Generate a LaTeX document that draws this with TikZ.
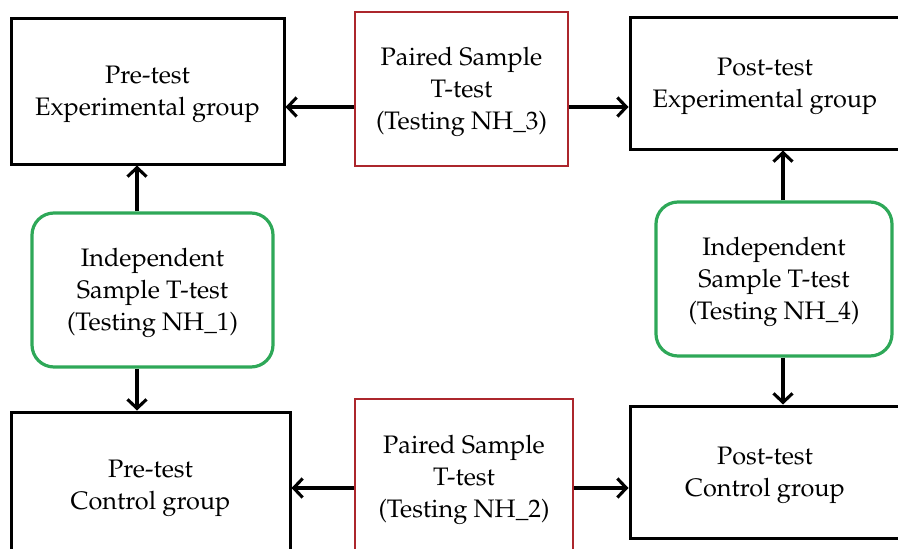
\documentclass[tikz,border=0pt]{standalone}
\usepackage[T1]{fontenc}
\usepackage{mathpazo}
\usetikzlibrary{arrows.meta}
\definecolor{boxred}{RGB}{172,38,44}
\definecolor{boxgreen}{RGB}{46,168,88}
\newcommand{\topstrut}{\rule{0pt}{25pt}}
\tikzset{
  every node/.style={font=\fontsize{25.3}{32}\selectfont, align=center, inner sep=0pt},
  blackbox/.style={draw=black, line width=3pt, rectangle},
  redbox/.style={draw=boxred, line width=2.3pt, rectangle},
  greenbox/.style={draw=boxgreen, line width=3.2pt, rectangle, rounded corners=22pt},
  arr/.style={line width=3.1pt, -{Straight Barb[length=9pt,width=19pt,line width=3.1pt]}}
}
\begin{document}
\begin{tikzpicture}[x=1pt,y=-1pt]
\useasboundingbox (0,0) rectangle (898,549);
\clip (0,0) rectangle (898,549);
\node[blackbox, minimum width=273pt, minimum height=146pt] (TL) at (147.5,91) {\topstrut Pre-test\\Experimental group};
\node[redbox, minimum width=213pt, minimum height=154pt] (NH3) at (461.5,89) {\topstrut Paired Sample\\T-test\\(Testing NH\_3)};
\node[blackbox, minimum width=270pt, minimum height=132pt] (TR) at (765,83) {\topstrut Post-test\\Experimental group};
\node[greenbox, minimum width=241pt, minimum height=154pt] (GL) at (152.5,290) {\topstrut Independent\\Sample T-test\\(Testing NH\_1)};
\node[greenbox, minimum width=236pt, minimum height=154pt] (GR) at (774,279) {\topstrut Independent\\Sample T-test\\(Testing NH\_4)};
\node[blackbox, minimum width=279pt, minimum height=146pt] (BL) at (150.5,485) {\topstrut Pre-test\\Control group};
\node[redbox, minimum width=218pt, minimum height=156pt] (NH2) at (464,477) {\topstrut Paired Sample\\T-test\\(Testing NH\_2)};
\node[blackbox, minimum width=270pt, minimum height=132pt] (BR) at (765,472) {\topstrut Post-test\\Control group};
\coordinate (lx) at (137,0);
\coordinate (rx) at (783,0);
\coordinate (ty) at (0,107);
\coordinate (by) at (0,488);
\draw[arr] (NH3.west |- ty) -- (TL.east |- ty);
\draw[arr] (NH3.east |- ty) -- (TR.west |- ty);
\draw[arr] (NH2.west |- by) -- (BL.east |- by);
\draw[arr] (NH2.east |- by) -- (BR.west |- by);
\draw[arr] (GL.north -| lx) -- (TL.south -| lx);
\draw[arr] (GL.south -| lx) -- (BL.north -| lx);
\draw[arr] (GR.north -| rx) -- (TR.south -| rx);
\draw[arr] (GR.south -| rx) -- (BR.north -| rx);
\end{tikzpicture}
\end{document}
